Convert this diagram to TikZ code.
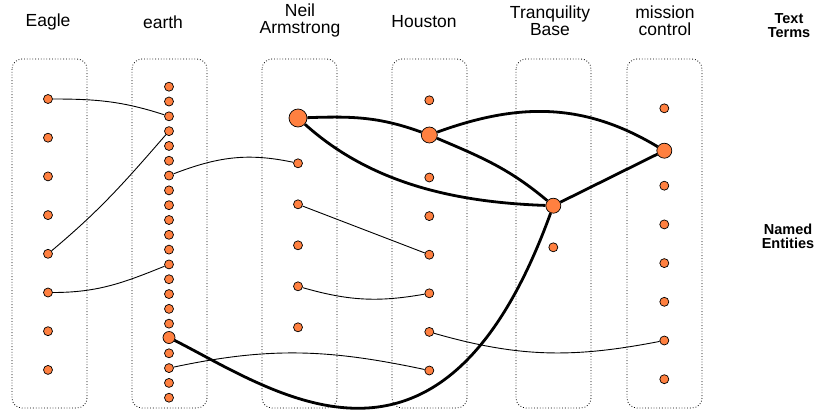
\documentclass[tikz,border=0pt]{standalone}
\usepackage{fontspec}
\setmainfont{Liberation Sans}
\definecolor{dotfill}{HTML}{FF8040}
\begin{document}
\begin{tikzpicture}[x=1pt,y=-1pt,
  dotn/.style={circle,fill=dotfill,draw=black,line width=0.7pt,inner sep=0pt,minimum size=9pt},
  colbox/.style={draw=black,dotted,line width=0.8pt,rounded corners=10pt},
  thin/.style={line width=0.9pt},
  thick/.style={line width=2.8pt},
  hdr/.style={font=\fontsize{17.5}{17}\selectfont,align=center},
  side/.style={font=\bfseries\fontsize{14.5}{14}\selectfont,align=center}]
\path[use as bounding box] (0,0) rectangle (814,410);
% boxes
\foreach \x/\n in {12/b1,132/b2,262/b3,392/b4,516/b5,627/b6}{
  \draw[colbox] (\x,59) rectangle ++(75,349);
}
% headers
\node[hdr] (l1) at (48,22) {Eagle};
\node[hdr] (l2) at (163,22) {earth};
\node[hdr] (l3) at (300,20.5) {Neil\\Armstrong};
\node[hdr] (l4) at (424,22) {Houston};
\node[hdr] (l5) at (550,20.5) {Tranquility\\Base};
\node[hdr] (l6) at (665,20.5) {mission\\control};
\node[side] (s1) at (789,26) {Text\\Terms};
\node[side] (s2) at (788,236.5) {Named\\Entities};
% Eagle
\foreach \i in {0,...,7}{\node[dotn] (e\i) at (48,{99+38.7*\i}) {};}
% earth
\foreach \i in {0,...,16,18,19,20,21}{\node[dotn] (t\i) at (169,{86.7+14.81*\i}) {};}
\node[dotn,minimum size=12pt] (t17) at (169,337.5) {};
% Neil Armstrong
\node[dotn,minimum size=18pt] (n0) at (298,118) {};
\foreach \i in {1,...,5}{\node[dotn] (n\i) at (298,{122.3+41*\i}) {};}
% Houston
\node[dotn] (h0) at (429.3,100.3) {};
\node[dotn,minimum size=16pt] (h1) at (429.3,135) {};
\foreach \i in {2,...,7}{\node[dotn] (h\i) at (429.3,{100.3+38.6*\i}) {};}
% Tranquility Base
\node[dotn,minimum size=15pt] (q0) at (553.3,205.7) {};
\node[dotn] (q1) at (553.3,247.3) {};
% mission control
\node[dotn] (m0) at (664.3,108.3) {};
\node[dotn,minimum size=15pt] (m1) at (664.3,150.7) {};
\foreach \i in {2,...,7}{\node[dotn] (m\i) at (664.3,{108.3+38.7*\i}) {};}
% thin edges
\draw[thin] (e0) to[out=0,in=162] (t2);
\draw[thin] (e4) to[out=40,in=-131] (t3);
\draw[thin] (e5) to[out=0,in=-158] (t12);
\draw[thin] (t6) to[out=21,in=168] (n1);
\draw[thin] (n2) -- (h4);
\draw[thin] (n4) to[out=-16,in=-170] (h5);
\draw[thin] (h6) to[out=-16,in=-169] (m6);
\draw[thin] (t19) to[out=12,in=168] (h7);
% thick edges
\draw[thick] (n0) to[out=2,in=160] (h1);
\draw[thick] (n0) to[out=-42,in=178,looseness=0.9] (q0);
\draw[thick] (h1) to[out=20,in=149] (m1);
\draw[thick] (h1) to[out=-23,in=140] (q0);
\draw[thick] (q0) -- (m1);
\draw[thick] (t17) .. controls +(108,55) and +(-111,306) .. (q0);
\end{tikzpicture}
\end{document}
